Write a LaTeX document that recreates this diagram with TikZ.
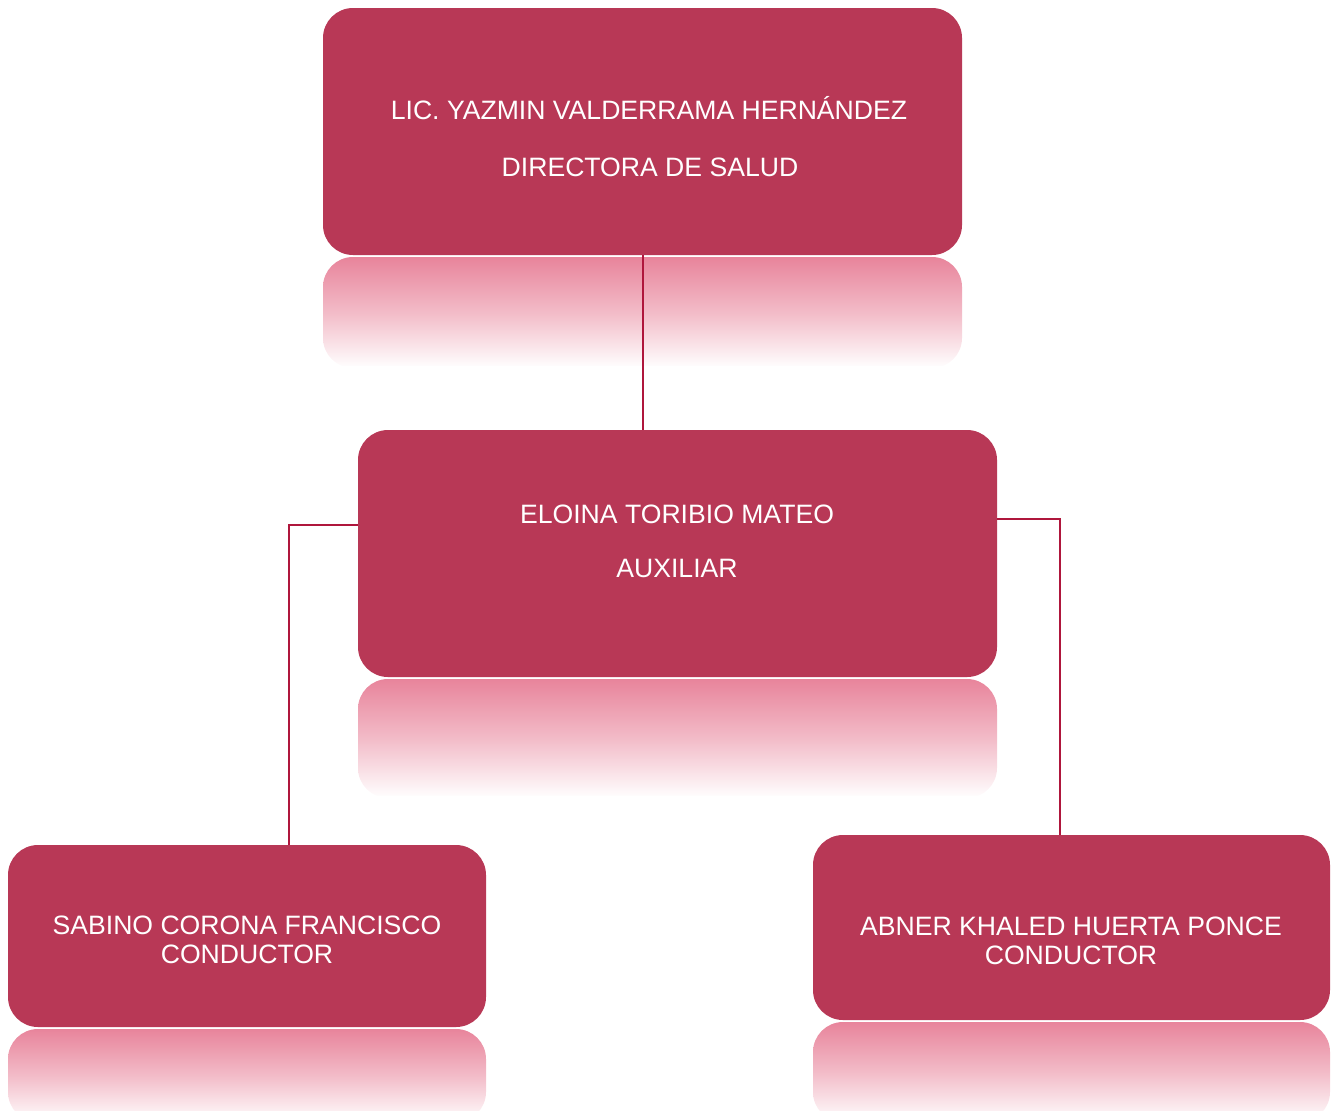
\documentclass[tikz,border=0pt]{standalone}
\usepackage{fontspec}
\setmainfont{Liberation Sans}
\usetikzlibrary{calc}
\definecolor{boxc}{RGB}{184,56,86}
\definecolor{linec}{RGB}{175,22,60}
\definecolor{reflc}{RGB}{232,132,155}
\tikzset{
  orgbox/.style={rounded corners=15pt, fill=boxc, draw=none, inner sep=0pt},
  boxtext/.style={text=white, align=center, font=\fontsize{13.3}{14.5}\selectfont, inner sep=0pt},
  conn/.style={draw=linec, line width=1.3pt},
  refl/.style={rounded corners=15pt, top color=reflc, bottom color=white, middle color=reflc!55, draw=none}
}
\begin{document}
\begin{tikzpicture}[x=0.5pt,y=-0.5pt]
\useasboundingbox (0,0) rectangle (1338,1110);
% reflections
\begin{scope}
\clip (300,257) rectangle (1000,365);
\shade[refl] (323,257) rectangle (962,368);
\end{scope}
\begin{scope}
\clip (340,679) rectangle (1010,795);
\shade[refl] (358,679) rectangle (997,798);
\end{scope}
\begin{scope}
\clip (0,1029) rectangle (500,1110);
\shade[refl] (8,1029) rectangle (486,1122);
\end{scope}
\begin{scope}
\clip (800,1022) rectangle (1338,1110);
\shade[refl] (813,1022) rectangle (1330,1122);
\end{scope}
% boxes
\node[orgbox, minimum width=319.5pt, minimum height=123.5pt] (top) at (642.5,131.5) {};
\node[orgbox, minimum width=319.5pt, minimum height=123.5pt] (mid) at (677.5,553.5) {};
\node[orgbox, minimum width=239pt, minimum height=91pt] (left) at (247,936) {};
\node[orgbox, minimum width=258.5pt, minimum height=92.5pt] (right) at (1071.5,927.5) {};
% texts
\node[boxtext] (topa) at (649,108) {LIC. YAZMIN VALDERRAMA HERNÁNDEZ};
\node[boxtext] (topb) at (650,167) {DIRECTORA DE SALUD};
\node[boxtext] (mida) at (677,514) {ELOINA TORIBIO MATEO};
\node[boxtext] (midb) at (677,568) {AUXILIAR};
\node[boxtext] (lefta) at (247,940) {SABINO CORONA FRANCISCO\\CONDUCTOR};
\node[boxtext] (righta) at (1071,941) {ABNER KHALED HUERTA PONCE\\CONDUCTOR};
% connectors
\draw[conn] (top.south -| 643,0) -- (mid.north -| 643,0);
\draw[conn] ($(mid.north west)!0.385!(mid.south west)$) -| ($(left.north west)!0.588!(left.north east)$);
\draw[conn] ($(mid.north east)!0.36!(mid.south east)$) -| ($(right.north west)!0.478!(right.north east)$);
\end{tikzpicture}
\end{document}
